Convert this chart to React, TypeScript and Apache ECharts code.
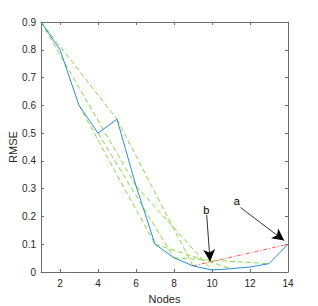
import React, { useEffect, useRef } from "react";
import * as echarts from "echarts";

const nodes = [1, 2, 3, 4, 5, 6, 7, 8, 9, 10, 11, 12, 13, 14];
const rmse = [0.9, 0.8, 0.6, 0.5, 0.55, 0.31, 0.1, 0.051, 0.022, 0.007, 0.012, 0.018, 0.03, 0.1];
// green dashed shortcut segments, as [fromNode, toNode]
const greenSegments = [
  [1, 5],
  [1, 6],
  [3, 7],
  [4, 8],
  [5, 9],
  [6, 10],
  [7, 11],
  [8, 13],
];
const redSegment = [9, 14];
const xTicks = [2, 4, 6, 8, 10, 12, 14];
// annotation arrows (data coordinates)
const arrowA = { label: "a", text: [11.3, 0.255], from: [11.5, 0.232], to: [13.8, 0.113] };
const arrowB = { label: "b", text: [9.7, 0.223], from: [9.72, 0.205], to: [9.9, 0.038] };

const valueAt = (n: number) => rmse[nodes.indexOf(n)];

export default function App() {
  const ref = useRef<HTMLDivElement>(null);
  useEffect(() => {
    if (!ref.current) return;
    const chart = echarts.init(ref.current, undefined, { renderer: "svg" });
    const font = "'Liberation Sans', Arial, Helvetica, sans-serif";
    const axisColor = "#6b6b6b";
    const labelColor = "#262626";

    const greenSeries = greenSegments.map((s) => ({
      type: "line",
      data: [
        [s[0], valueAt(s[0])],
        [s[1], valueAt(s[1])],
      ],
      symbol: "none",
      lineStyle: { color: "#88da44", width: 1, type: [5, 3] },
      z: 2,
    }));

    const arrowLine = (a: any) => [
      { coord: a.from, symbol: "none" },
      { coord: a.to, symbol: "arrow" },
    ];

    chart.setOption({
      animation: false,
      grid: {
        left: 41,
        top: 22,
        width: 247,
        height: 250,
        containLabel: false,
        outerBoundsMode: "none",
      },
      xAxis: [
        {
          type: "value",
          min: 1,
          max: 14,
          name: "Nodes",
          nameLocation: "middle",
          nameGap: 21,
          nameMoveOverlap: false,
          nameTextStyle: { fontFamily: font, fontSize: 11, color: labelColor },
          axisLine: { lineStyle: { color: axisColor, width: 1 } },
          axisTick: { inside: true, length: 3, customValues: xTicks, lineStyle: { color: axisColor } },
          axisLabel: { customValues: xTicks, fontFamily: font, fontSize: 10, color: labelColor, margin: 6 },
          splitLine: { show: false },
        },
        {
          type: "value",
          min: 1,
          max: 14,
          position: "top",
          axisLine: { show: true, onZero: false, lineStyle: { color: axisColor, width: 1 } },
          axisTick: { inside: true, length: 3, customValues: xTicks, lineStyle: { color: axisColor } },
          axisLabel: { show: false },
          splitLine: { show: false },
        },
      ],
      yAxis: [
        {
          type: "value",
          min: 0,
          max: 0.9,
          interval: 0.1,
          name: "RMSE",
          nameLocation: "middle",
          nameGap: 23,
          nameMoveOverlap: false,
          nameTextStyle: { fontFamily: font, fontSize: 11, color: labelColor },
          axisLine: { show: true, lineStyle: { color: axisColor, width: 1 } },
          axisTick: { show: true, inside: true, length: 3, lineStyle: { color: axisColor } },
          axisLabel: {
            fontFamily: font,
            fontSize: 10,
            color: labelColor,
            margin: 5,
            formatter: (v: number) => (v === 0 ? "0" : v.toFixed(1)),
          },
          splitLine: { show: false },
        },
        {
          type: "value",
          min: 0,
          max: 0.9,
          interval: 0.1,
          position: "right",
          axisLine: { show: true, onZero: false, lineStyle: { color: axisColor, width: 1 } },
          axisTick: { show: true, inside: true, length: 3, lineStyle: { color: axisColor } },
          axisLabel: { show: false },
          splitLine: { show: false },
        },
      ],
      series: [
        ...greenSeries,
        {
          type: "line",
          data: [
            [redSegment[0], valueAt(redSegment[0])],
            [redSegment[1], valueAt(redSegment[1])],
          ],
          symbol: "none",
          lineStyle: { color: "#ff5a5a", width: 1, type: [4, 2, 1, 2] },
          z: 3,
        },
        {
          type: "line",
          data: nodes.map((n, i) => [n, rmse[i]]),
          symbol: "none",
          lineStyle: { color: "#2f8bd3", width: 1 },
          z: 4,
          markLine: {
            silent: true,
            symbolSize: [9, 12],
            lineStyle: { color: "#000", width: 0.8, type: "solid" },
            label: { show: false },
            data: [arrowLine(arrowA), arrowLine(arrowB)],
          },
          markPoint: {
            silent: true,
            symbol: "circle",
            symbolSize: 0,
            label: {
              show: true,
              fontFamily: font,
              fontSize: 11,
              color: "#000",
              formatter: (p: any) => p.name,
            },
            data: [
              { name: arrowA.label, coord: arrowA.text },
              { name: arrowB.label, coord: arrowB.text },
            ],
          },
        },
      ],
    });
    return () => chart.dispose();
  }, []);
  return (
    <div
      ref={ref}
      style={{ position: "fixed", left: 0, top: 0, width: 318, height: 306, background: "#fff" }}
    />
  );
}
